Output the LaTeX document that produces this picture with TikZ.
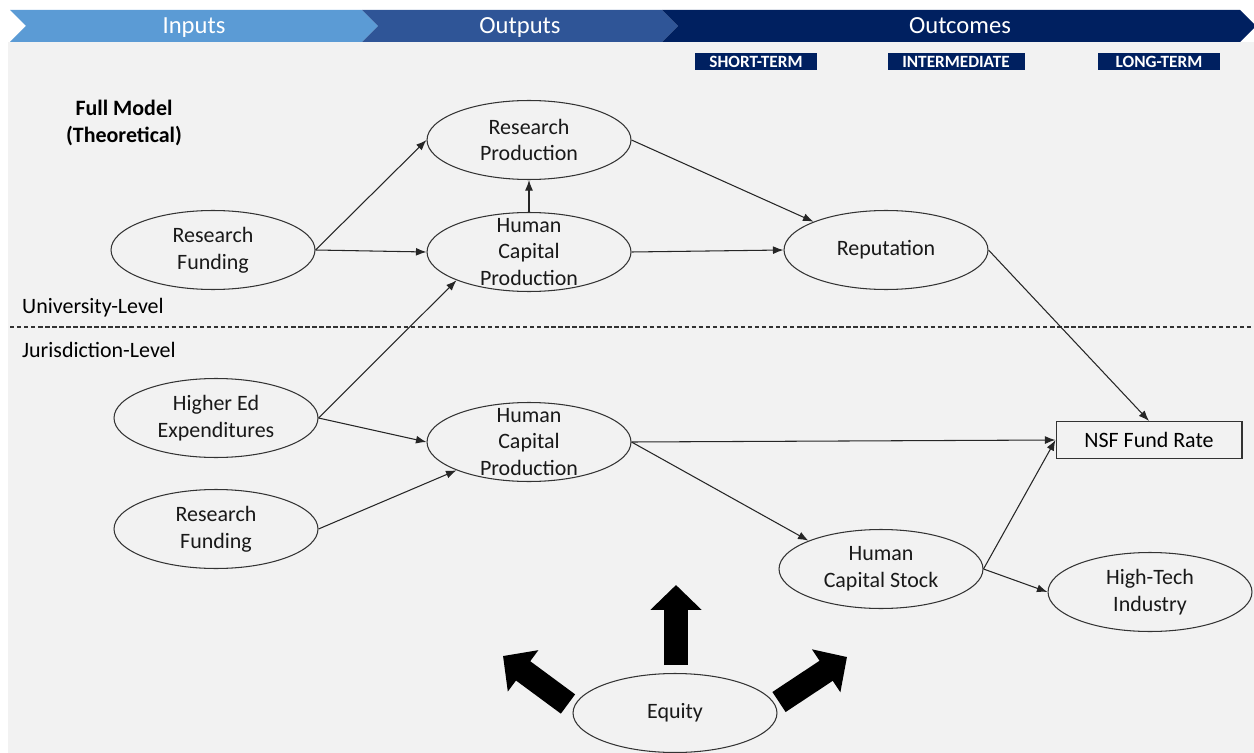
\documentclass[tikz,border=0pt]{standalone}
\usepackage{fontspec}
\setmainfont{Carlito}
\usepackage{xcolor}
\usepackage{tikz}
\usetikzlibrary{positioning, arrows.meta, shapes.geometric}
\definecolor{inblue}{HTML}{5B9BD5}
\definecolor{outblue}{HTML}{2F5597}
\definecolor{navy}{HTML}{002060}
\definecolor{bggray}{HTML}{F2F2F2}
\newcommand{\ovalfont}{\fontsize{12.5}{15.3}\selectfont}
\newcommand{\bandfont}{\fontsize{14}{16}\selectfont}
\newcommand{\tagfont}{\fontsize{9.8}{11}\selectfont\bfseries}

\begin{document}
\begin{tikzpicture}[x=0.02cm, y=-0.02cm,
  oval/.style={draw=black!80, line width=0.6pt, ellipse, minimum width=4.08cm, minimum height=1.58cm,
    inner xsep=0pt, inner ysep=-6pt, align=center, font=\ovalfont, text=black!90},
  band/.style={text=white, font=\bandfont, anchor=base},
  tag/.style={fill=navy, text=white, font=\tagfont, minimum height=0.34cm, inner sep=0pt},
  link/.style={draw=black!85, line width=0.6pt, -{Latex[length=6pt,width=4.5pt]}},
  fat/.style={line width=0.48cm, -{Triangle[length=0.5cm,width=1cm]}}]
\useasboundingbox (0,0) rectangle (1254,753);
% background and header band
\fill[bggray] (8,42) rectangle (1254,753);
\fill[inblue] (10,10) -- (362,10) -- (378,26) -- (362,42) -- (10,42) -- (26,26) -- cycle;
\fill[outblue] (362,10) -- (662,10) -- (678,26) -- (662,42) -- (362,42) -- (378,26) -- cycle;
\fill[navy] (662,10) -- (1240,10) -- (1256,26) -- (1240,42) -- (662,42) -- (678,26) -- cycle;
\node[band] (inputs) at (194,34) {Inputs};
\node[band] (outputs) at (520,34) {Outputs};
\node[band] (outcomes) at (960,34) {Outcomes};
\node[tag, minimum width=2.46cm] (short) at (756,62) {SHORT-TERM};
\node[tag, minimum width=2.74cm] (inter) at (956,62) {INTERMEDIATE};
\node[tag, minimum width=2.44cm] (long) at (1159,62) {LONG-TERM};
\node[font=\ovalfont\bfseries, align=center] (full) at (124,123) {Full Model\\(Theoretical)};

% levels
\draw[black!80, line width=0.6pt, dash pattern=on 2.5pt off 1.5pt] (10,327) -- (1254,327);
\node[font=\ovalfont, anchor=west] (uni) at (16,308) {University-Level};
\node[font=\ovalfont, anchor=west] (jur) at (16,350) {Jurisdiction-Level};

% university level
\node[oval] (rpA) at (529,140) {Research\\Production};
\node[oval] (rfA) at (213,250) {Research\\Funding};
\node[oval] (hcpA) at (529,252) {Human\\Capital\\Production};
\node[oval] (repu) at (886,250) {Reputation};

% jurisdiction level
\node[oval] (hied) at (216,418) {Higher Ed\\Expenditures};
\node[oval] (hcpB) at (529,442) {Human\\Capital\\Production};
\node[oval] (rfB) at (216,529) {Research\\Funding};
\node[oval] (hcs) at (881,569) {Human\\Capital Stock};
\node[oval] (htech) at (1150,592) {High-Tech\\Industry};
\node[draw=black!80, line width=0.6pt, minimum width=3.72cm, minimum height=0.74cm, inner sep=0pt,
  font=\ovalfont] (nsf) at (1149,440) {NSF Fund Rate};
\node[oval] (eq) at (675,713) {Equity};

% links
\draw[link] (rfA.east) -- (rpA.west);
\draw[link] (rfA.east) -- (hcpA.west);
\draw[link] (hcpA.north) -- (rpA.south);
\draw[link] (rpA.east) -- (repu.north west);
\draw[link] (hcpA.east) -- (repu.west);
\draw[link] (repu.east) -- (nsf.north);
\draw[link] (hied.east) -- (hcpA.south west);
\draw[link] (hied.east) -- (hcpB.west);
\draw[link] (rfB.east) -- (hcpB.south west);
\draw[link] (hcpB.east) -- (nsf.west);
\draw[link] (hcpB.east) -- (hcs.north west);
\draw[link] (hcs.east) -- (nsf.west);
\draw[link] (hcs.east) -- (htech.west);

% equity arrows
\coordinate (upTail) at (676,665);
\coordinate (upTip) at (676,585);
\coordinate (lfTail) at (568,704);
\coordinate (lfTip) at (503,656);
\coordinate (rtTail) at (779,702);
\coordinate (rtTip) at (847,657);
\draw[fat] (upTail) -- (upTip);
\draw[fat] (lfTail) -- (lfTip);
\draw[fat] (rtTail) -- (rtTip);
\end{tikzpicture}
\end{document}
